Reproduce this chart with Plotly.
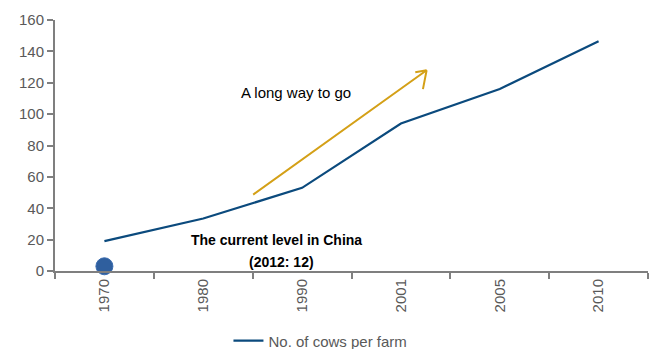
import plotly.graph_objects as go

years = ["1970", "1980", "1990", "2001", "2005", "2010"]
cows_per_farm = [19, 33.5, 53, 94, 116, 146.5]
china_year = ["1970"]
china_value = [3]
y_ticks = [0, 20, 40, 60, 80, 100, 120, 140, 160]

FONT = "Liberation Sans, Arial"
GRAY = "#595959"
AXIS = "#7f7f7f"
GOLD = "#D4A017"

fig = go.Figure()
fig.add_trace(go.Scatter(
    x=years, y=cows_per_farm, mode="lines",
    line=dict(color="#0b4a7d", width=2.2),
    name="No. of cows per farm",
))
fig.add_trace(go.Scatter(
    x=china_year, y=china_value, mode="markers",
    marker=dict(size=17, color="#2f5f9e", line=dict(color="#3a6cb0", width=1)),
    showlegend=False, cliponaxis=False,
))

# arrow "A long way to go"
x0, y0, x1, y1 = 1.49, 48, 3.26, 128
fig.add_annotation(x=x1, y=y1, ax=x0, ay=y0, xref="x", yref="y", axref="x", ayref="y",
                   text="", showarrow=True, arrowhead=0, arrowwidth=2, arrowcolor=GOLD)
fig.add_annotation(x=x1, y=y1, ax=x1 - 0.13, ay=y1 - 1.5, xref="x", yref="y", axref="x", ayref="y",
                   text="", showarrow=True, arrowhead=0, arrowwidth=2, arrowcolor=GOLD)
fig.add_annotation(x=x1, y=y1, ax=x1 - 0.04, ay=y1 - 13, xref="x", yref="y", axref="x", ayref="y",
                   text="", showarrow=True, arrowhead=0, arrowwidth=2, arrowcolor=GOLD)

fig.add_annotation(x=1.94, y=114, xref="x", yref="y", text="A long way to go", showarrow=False,
                   font=dict(family=FONT, size=15, color="#000000"))
fig.add_annotation(x=1.74, y=19.5, xref="x", yref="y", text="<b>The current level in China</b>",
                   showarrow=False, font=dict(family=FONT, size=14, color="#000000"))
fig.add_annotation(x=1.79, y=6, xref="x", yref="y", text="<b>(2012: 12)</b>",
                   showarrow=False, font=dict(family=FONT, size=14, color="#000000"))

fig.update_layout(
    width=654, height=349,
    margin=dict(l=55, r=6, t=20, b=78, autoexpand=False),
    paper_bgcolor="white", plot_bgcolor="white",
    font=dict(family=FONT, size=15, color=GRAY),
    showlegend=True,
    legend=dict(orientation="h", xref="container", yref="container",
                x=0.49, xanchor="center", y=0.023, yanchor="middle",
                font=dict(family=FONT, size=15, color=GRAY), bgcolor="rgba(0,0,0,0)"),
)
fig.update_xaxes(
    type="category", range=[-0.5, 5.5], tickangle=-90, automargin=False,
    showline=True, linecolor=AXIS, linewidth=2,
    ticks="outside", tickson="boundaries", ticklen=6, tickcolor=AXIS, tickwidth=2,
    showgrid=False, zeroline=False,
    tickfont=dict(family=FONT, size=15, color=GRAY),
)
fig.update_yaxes(
    range=[0, 160], tickvals=y_ticks, automargin=False,
    showline=True, linecolor=AXIS, linewidth=2,
    ticks="outside", ticklen=6, tickcolor=AXIS, tickwidth=2,
    showgrid=False, zeroline=False,
    tickfont=dict(family=FONT, size=15, color=GRAY),
)

fig.write_html("out.html")
